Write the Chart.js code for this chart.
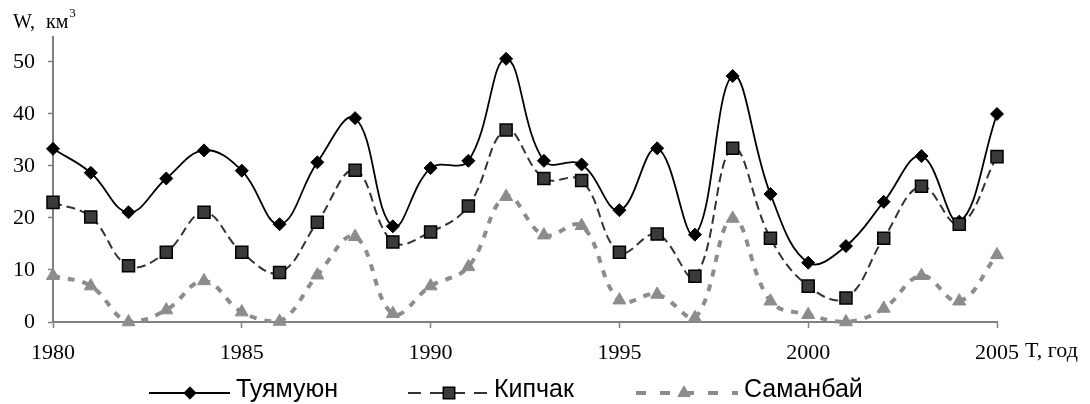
<!DOCTYPE html>
<html>
<head>
<meta charset="utf-8">
<script src="https://cdn.jsdelivr.net/npm/chart.js@4.4.1/dist/chart.umd.min.js"></script>
<style>
  html, body { margin: 0; padding: 0; background: #fff; }
  canvas { display: block; }
</style>
</head>
<body>
<canvas id="chart" width="1090" height="404"></canvas>
<script>
(function () {
  "use strict";

  // данные (W, км3)
  var YEARS = [1980, 1981, 1982, 1983, 1984, 1985, 1986, 1987, 1988, 1989, 1990, 1991, 1992,
               1993, 1994, 1995, 1996, 1997, 1998, 1999, 2000, 2001, 2002, 2003, 2004, 2005];
  var TUYAMUYUN = [33.3, 28.7, 21.1, 27.6, 33.0, 29.1, 18.8, 30.7, 39.2, 18.4, 29.6, 31.0, 50.6,
                   31.0, 30.3, 21.5, 33.4, 16.8, 47.3, 24.6, 11.4, 14.6, 23.1, 31.9, 19.3, 40.0];
  var KIPCHAK = [23.0, 20.2, 10.8, 13.4, 21.1, 13.4, 9.5, 19.2, 29.2, 15.4, 17.3, 22.3, 36.9,
                 27.6, 27.2, 13.4, 16.9, 8.8, 33.4, 16.1, 6.9, 4.6, 16.1, 26.1, 18.8, 31.8];
  var SAMANBAI = [8.9, 6.9, 0.0, 2.3, 7.9, 1.9, 0.1, 9.0, 16.4, 1.6, 6.9, 10.6, 24.1,
                  16.7, 18.5, 4.2, 5.3, 0.8, 19.9, 4.0, 1.4, 0.0, 2.6, 8.9, 4.0, 12.9];

  var X_TICKS = [1980, 1985, 1990, 1995, 2000, 2005];
  var Y_TICKS = [0, 10, 20, 30, 40, 50];
  var NAMES = ["Туямуюн", "Кипчак", "Саманбай"];

  var SERIF = "'Liberation Serif', 'Times New Roman', serif";
  var SANS = "'Liberation Sans', Arial, sans-serif";
  var AXIS = "#808080";

  function pts(vals) {
    return YEARS.map(function (y, i) { return { x: y, y: vals[i] }; });
  }

  var styles = [
    { line: "#000000", dash: [], width: 1.8, point: "rectRot", radius: 6.5,
      fill: "#000000", border: "#000000", bw: 1, legendDash: [] },
    { line: "#333333", dash: [9, 5], width: 2, point: "rect", radius: 8.5,
      fill: "#3a3a3a", border: "#000000", bw: 1.5, legendDash: [13, 9] },
    { line: "#8c8c8c", dash: [7, 8], width: 4, point: "triangle", radius: 7.5,
      fill: "#8c8c8c", border: "#8c8c8c", bw: 1, legendDash: [10, 14] }
  ];
  var values = [TUYAMUYUN, KIPCHAK, SAMANBAI];

  var datasets = values.map(function (v, i) {
    var s = styles[i];
    return {
      label: NAMES[i],
      data: pts(v),
      borderColor: s.line,
      borderDash: s.dash,
      borderWidth: s.width,
      tension: 0.4,
      pointStyle: s.point,
      pointRadius: s.radius,
      pointBackgroundColor: s.fill,
      pointBorderColor: s.border,
      pointBorderWidth: s.bw,
      clip: false,
      order: 3 - i
    };
  });

  // подписи осей и легенда
  var extras = {
    id: "extras",
    afterDraw: function (chart) {
      var ctx = chart.ctx;
      ctx.save();
      ctx.fillStyle = "#000";
      ctx.textBaseline = "alphabetic";
      ctx.textAlign = "left";
      ctx.font = "20px " + SERIF;
      ctx.fillText("W,", 13, 28);
      ctx.fillText("км", 46, 28);
      var w = ctx.measureText("км").width;
      ctx.font = "13px " + SERIF;
      ctx.fillText("3", 46 + w + 1, 17);
      ctx.font = "22px " + SERIF;
      ctx.fillText("T, год", 1025, 357);

      var lineX = [149, 408, 636];
      var markX = [190, 449, 684];
      var textX = [236, 494, 744];
      var ly = 393;
      ctx.font = "25px " + SANS;
      ctx.textBaseline = "middle";
      for (var i = 0; i < 3; i++) {
        var s = styles[i];
        ctx.save();
        ctx.strokeStyle = s.line;
        ctx.lineWidth = s.width;
        ctx.setLineDash(s.legendDash);
        ctx.beginPath();
        ctx.moveTo(lineX[i], ly);
        ctx.lineTo(textX[i] - 6, ly);
        ctx.stroke();
        ctx.setLineDash([]);
        ctx.fillStyle = s.fill;
        ctx.strokeStyle = s.border;
        ctx.lineWidth = s.bw;
        Chart.helpers.drawPoint(ctx, {
          pointStyle: s.point, radius: s.radius * 0.95, rotation: 0, borderWidth: s.bw
        }, markX[i], ly);
        ctx.restore();
        ctx.fillStyle = "#000";
        ctx.fillText(NAMES[i], textX[i], 390);
      }
      ctx.restore();
    }
  };

  new Chart(document.getElementById("chart").getContext("2d"), {
    type: "line",
    data: { datasets: datasets },
    plugins: [extras],
    options: {
      responsive: false,
      animation: false,
      devicePixelRatio: 1,
      layout: { padding: { left: 0, right: 93, top: 37, bottom: 0 } },
      plugins: { legend: { display: false }, tooltip: { enabled: false } },
      scales: {
        x: {
          type: "linear",
          min: X_TICKS[0],
          max: X_TICKS[X_TICKS.length - 1],
          afterBuildTicks: function (scale) {
            scale.ticks = X_TICKS.map(function (v) { return { value: v }; });
          },
          afterFit: function (scale) { scale.height = 82; },
          border: { color: AXIS, width: 2 },
          grid: { drawOnChartArea: false, tickLength: 6, color: AXIS, tickWidth: 1.5 },
          ticks: {
            color: "#000",
            font: { family: SERIF, size: 22 },
            padding: 12,
            maxRotation: 0,
            callback: function (v) { return String(v); }
          }
        },
        y: {
          min: 0,
          max: 54.8,
          afterBuildTicks: function (scale) {
            scale.ticks = Y_TICKS.map(function (v) { return { value: v }; });
          },
          afterFit: function (scale) { scale.width = 53; },
          border: { color: AXIS, width: 2 },
          grid: { drawOnChartArea: false, tickLength: 5, color: AXIS, tickWidth: 1.5 },
          ticks: {
            color: "#000",
            font: { family: SERIF, size: 22 },
            padding: 13
          }
        }
      }
    }
  });
})();
</script>
</body>
</html>
